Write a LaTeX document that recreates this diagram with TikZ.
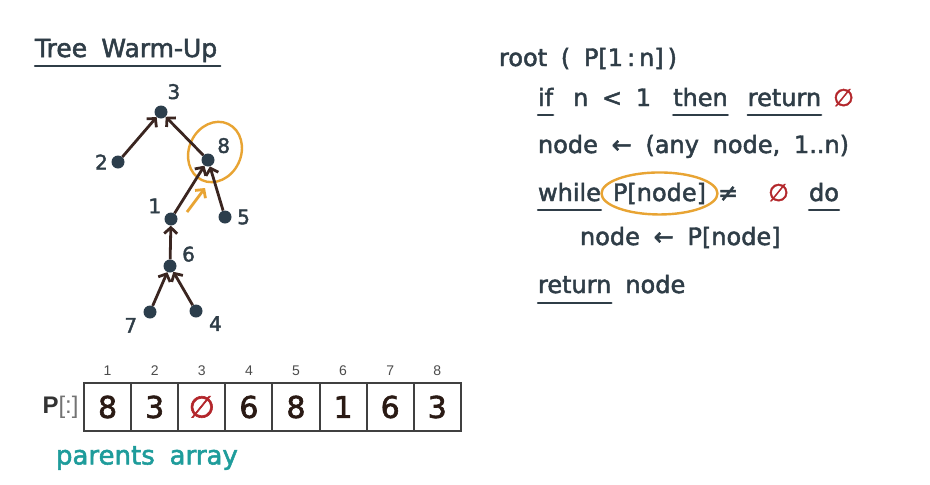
\documentclass[tikz,border=0pt]{standalone}
\usepackage{fontspec}
\setmainfont{DejaVu Sans}
\newfontfamily\handfont{DejaVu Sans}[WordSpace=1.8, FakeBold=2]
\newfontfamily\idxfont{Liberation Sans}
\usetikzlibrary{positioning,arrows.meta,shapes.geometric}
\definecolor{inkCol}{HTML}{2F3D47}
\definecolor{dotCol}{HTML}{2C3E4C}
\definecolor{edgeCol}{HTML}{3A2520}
\definecolor{hlCol}{HTML}{E8A433}
\definecolor{nilCol}{HTML}{B3262B}
\definecolor{tealCol}{HTML}{1E9C9B}
\definecolor{digitCol}{HTML}{2A1A14}

\begin{document}
\begin{tikzpicture}[
    x=1pt, y=-1pt,
    >={Straight Barb[length=6pt,width=13pt]},
    code/.style={font=\handfont\fontsize{24}{28}\selectfont, text=inkCol,
      inner sep=0pt, outer sep=0pt},
    nil/.style={code, text=nilCol},
    uline/.style={draw=inkCol, line width=2.4pt, line cap=round},
    ring/.style={ellipse, draw=hlCol, line width=2.4pt, inner sep=0pt},
    vtx/.style={circle, fill=dotCol, inner sep=0pt, minimum size=13pt},
    tlab/.style={font=\handfont\fontsize{20}{24}\selectfont, text=inkCol},
    tedge/.style={->, draw=edgeCol, line width=2.8pt},
    cell/.style={draw=black!75, line width=2pt, minimum width=47.1pt,
      minimum height=48pt, outer sep=0pt, font=\handfont\fontsize{30}{34}\selectfont,
      text=digitCol},
    idx/.style={font=\idxfont\fontsize{14}{16}\selectfont, text=black!70,
      label distance=4pt},
  ]

\fill[white] (0,0) rectangle (930,485);
\useasboundingbox (0,0) rectangle (930,485);

% Title
\node[code, font=\handfont\fontsize{25}{30}\selectfont, anchor=base west] (title) at (35,57) {Tree Warm-Up};
\draw[uline] ([yshift=-9pt]title.base west) -- ([shift={(3pt,-9pt)}]title.base east);

% Tree of parents
\node[vtx, label={[tlab, label distance=3pt]72:3}] (n3) at (161,112) {};
\node[vtx, label={[tlab]180:2}] (n2) at (118,162) {};
\node[vtx, label={[tlab]30:8}] (n8) at (208,160) {};
\node[vtx, label={[tlab]160:1}] (n1) at (171,219) {};
\node[vtx, label={[tlab, label distance=2pt]0:5}] (n5) at (225,217) {};
\node[vtx, label={[tlab, label distance=2pt]5:6}] (n6) at (170,266) {};
\node[vtx, label={[tlab, label distance=3pt]195:7}] (n7) at (150,312) {};
\node[vtx, label={[tlab, label distance=3pt]-10:4}] (n4) at (196,311) {};

\node[ring, minimum width=52pt, minimum height=62pt, rotate=-25] (ring8) at (215,152) {};

\draw[tedge] (n2) -- (n3);
\draw[tedge] (n8) -- (n3);
\draw[tedge] (n1) -- (n8);
\draw[tedge] (n5) -- (n8);
\draw[tedge] (n6) -- (n1);
\draw[tedge] (n7) -- (n6);
\draw[tedge] (n4) -- (n6);

% hint: follow the parent pointer
\coordinate (hint0) at (187,212);
\coordinate (hint1) at (205,188);
\draw[tedge, draw=hlCol] (hint0) -- (hint1);

% Parents array
\node[cell, label={[idx]above:1}] (c1) at (107.6,407) {8};
\node[cell, label={[idx]above:2}, right=0pt of c1] (c2) {3};
\node[cell, label={[idx]above:3}, right=0pt of c2, text=nilCol] (c3) {∅};
\node[cell, label={[idx]above:4}, right=0pt of c3] (c4) {6};
\node[cell, label={[idx]above:5}, right=0pt of c4] (c5) {8};
\node[cell, label={[idx]above:6}, right=0pt of c5] (c6) {1};
\node[cell, label={[idx]above:7}, right=0pt of c6] (c7) {6};
\node[cell, label={[idx]above:8}, right=0pt of c7] (c8) {3};

\node[font=\idxfont\fontsize{24}{28}\selectfont, text=black!80, left=2pt of c1]
  (plab) {\textbf{P}{\color{black!55}[:]}};
\node[code, font=\handfont\fontsize{26}{30}\selectfont, text=tealCol, anchor=west]
  (arrcap) at (56,458) {parents array};

% root(P) pseudocode
\node[code, anchor=base west] (hdr) at (499,66) {root ( P[1\,:\,n]\,)};

\node[code, anchor=base west] (kif) at (538,106) {if};
\node[code, base right=20pt of kif] (cond) {n < 1};
\node[code, base right=22pt of cond] (kthen) {then};
\node[code, base right=20pt of kthen] (kret) {return};
\node[nil, base right=12pt of kret] (nil1) {∅};

\node[code, anchor=base west] (init) at (538,153) {node ← (any node, 1..n)};

\node[code, anchor=base west] (kwhile) at (538,201) {while};
\node[code, base right=12pt of kwhile] (pnode) {P[node]};
\node[code, base right=12pt of pnode] (neq) {≠};
\node[nil, base right=30pt of neq] (nil2) {∅};
\node[code, base right=20pt of nil2] (kdo) {do};
\node[ring, minimum width=116pt, minimum height=42pt] (ring) at (pnode) {};

\node[code, anchor=base west] (upd) at (580,245) {node ← P[node]};

\node[code, anchor=base west] (kret2) at (538,293) {return};
\node[code, base right=14pt of kret2] (retval) {node};

% keyword underlines
\draw[uline] ([yshift=-9pt]kif.base west) -- ([yshift=-9pt]kif.base east);
\draw[uline] ([yshift=-9pt]kthen.base west) -- ([yshift=-9pt]kthen.base east);
\draw[uline] ([yshift=-9pt]kret.base west) -- ([yshift=-9pt]kret.base east);
\draw[uline] ([yshift=-9pt]kwhile.base west) -- ([yshift=-9pt]kwhile.base east);
\draw[uline] ([yshift=-9pt]kdo.base west) -- ([yshift=-9pt]kdo.base east);
\draw[uline] ([yshift=-10pt]kret2.base west) -- ([yshift=-10pt]kret2.base east);

\end{tikzpicture}
\end{document}
